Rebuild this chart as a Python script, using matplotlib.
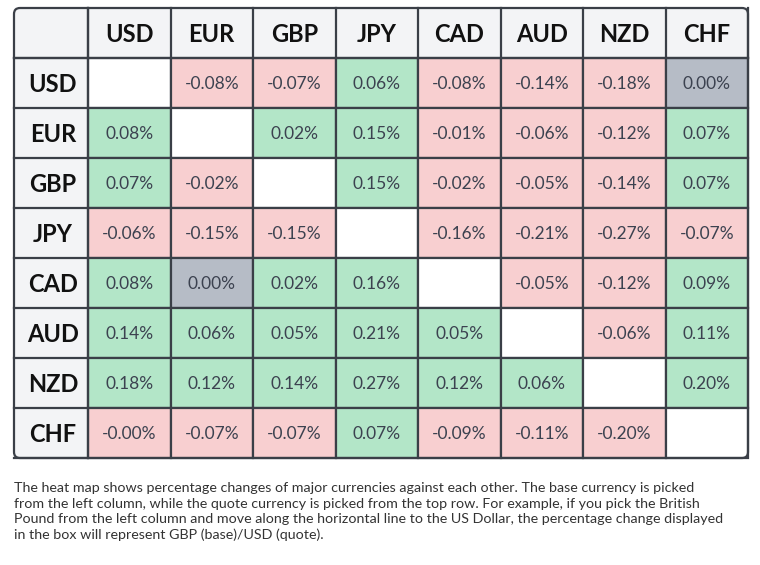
import matplotlib.pyplot as plt
from matplotlib.patches import Rectangle, FancyBboxPatch

currencies = ['USD', 'EUR', 'GBP', 'JPY', 'CAD', 'AUD', 'NZD', 'CHF']
changes = [
    [None, '-0.08%', '-0.07%', '0.06%', '-0.08%', '-0.14%', '-0.18%', '0.00%'],
    ['0.08%', None, '0.02%', '0.15%', '-0.01%', '-0.06%', '-0.12%', '0.07%'],
    ['0.07%', '-0.02%', None, '0.15%', '-0.02%', '-0.05%', '-0.14%', '0.07%'],
    ['-0.06%', '-0.15%', '-0.15%', None, '-0.16%', '-0.21%', '-0.27%', '-0.07%'],
    ['0.08%', '0.00%', '0.02%', '0.16%', None, '-0.05%', '-0.12%', '0.09%'],
    ['0.14%', '0.06%', '0.05%', '0.21%', '0.05%', None, '-0.06%', '0.11%'],
    ['0.18%', '0.12%', '0.14%', '0.27%', '0.12%', '0.06%', None, '0.20%'],
    ['-0.00%', '-0.07%', '-0.07%', '0.07%', '-0.09%', '-0.11%', '-0.20%', None],
]
caption = ("The heat map shows percentage changes of major currencies against each other. The base currency is picked\n"
           "from the left column, while the quote currency is picked from the top row. For example, if you pick the British\n"
           "Pound from the left column and move along the horizontal line to the US Dollar, the percentage change displayed\n"
           "in the box will represent GBP (base)/USD (quote).")

plt.rcParams['font.family'] = ['Lato', 'DejaVu Sans']
fig = plt.figure(figsize=(7.6, 5.65), dpi=100)
ax = fig.add_axes([0, 0, 1, 1])
ax.set_xlim(0, 760)
ax.set_ylim(565, 0)
ax.axis('off')

left, top, right, bottom = 14, 8, 748, 458
hw, hh = 74, 50
cw = (right - left - hw) / len(currencies)
ch = (bottom - top - hh) / len(currencies)
line = '#3a3f47'
head_bg = '#f3f4f6'

def cell_color(s):
    if s is None:
        return 'white'
    if s == '0.00%':
        return '#b6bcc6'
    if s.startswith('-'):
        return '#f8cfd0'
    return '#b3e6c8'

# header backgrounds
ax.add_patch(Rectangle((left, top), right - left, hh, fc=head_bg, ec='none'))
ax.add_patch(Rectangle((left, top), hw, bottom - top, fc=head_bg, ec='none'))

for j, c in enumerate(currencies):
    ax.text(left + hw + cw * (j + 0.5), top + hh / 2 + 1, c, ha='center', va='center',
            fontsize=17, fontweight='bold', color='#111')
for i, c in enumerate(currencies):
    y = top + hh + ch * i
    ax.text(left + hw / 2 + 2, y + ch / 2 + 1, c, ha='center', va='center',
            fontsize=17, fontweight='bold', color='#111')
    for j, s in enumerate(changes[i]):
        x = left + hw + cw * j
        ax.add_patch(Rectangle((x, y), cw, ch, fc=cell_color(s), ec=line, lw=1.6))
        if s is not None:
            ax.text(x + cw / 2, y + ch / 2 + 1, s, ha='center', va='center',
                    fontsize=12.5, color='#3c4250')

# grid lines in headers
for j in range(len(currencies) + 1):
    x = left + hw + cw * j
    ax.plot([x, x], [top, top + hh], color=line, lw=1.6)
for i in range(len(currencies) + 1):
    y = top + hh + ch * i
    ax.plot([left, left + hw], [y, y], color=line, lw=1.6)
ax.plot([left, right], [top + hh, top + hh], color=line, lw=1.6)
ax.plot([left + hw, left + hw], [top, bottom], color=line, lw=1.6)

ax.add_patch(FancyBboxPatch((left, top), right - left, bottom - top,
                            boxstyle='round,pad=0,rounding_size=6',
                            fc='none', ec=line, lw=1.6))

ax.text(14, 482, caption, ha='left', va='top', fontsize=10.3, color='#333',
        linespacing=1.35)

fig.savefig('out.png', dpi=100)
